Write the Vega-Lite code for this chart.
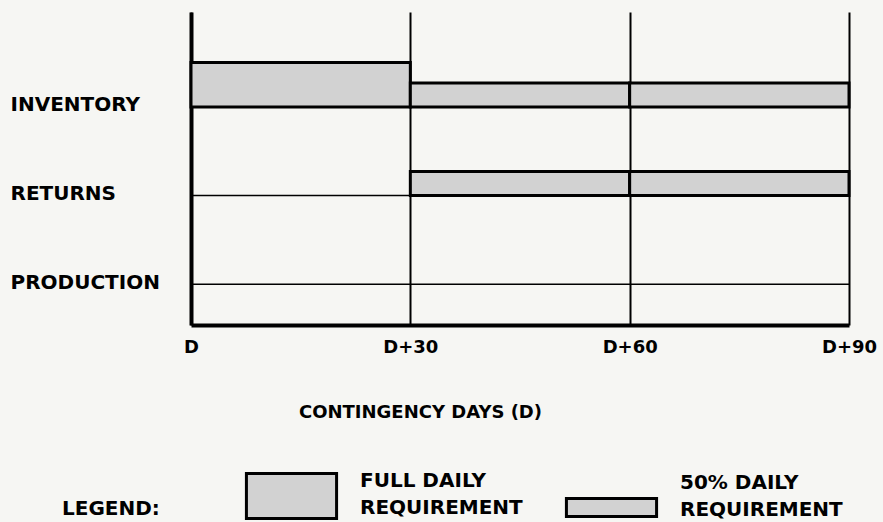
{
  "$schema": "https://vega.github.io/schema/vega-lite/v6.json",
  "width": 658,
  "height": 313,
  "autosize": {"type": "none"},
  "padding": {"left": 191, "top": 12, "right": 34, "bottom": 197},
  "background": "#f6f6f3",
  "config": {"view": {"stroke": null}, "font": "DejaVu Sans"},
  "datasets": {
    "bars": [
      {"source": "INVENTORY", "from": 0, "to": 30, "req": "FULL", "base": 2, "top": 2.5},
      {"source": "INVENTORY", "from": 30, "to": 60, "req": "50%", "base": 2, "top": 2.27},
      {"source": "INVENTORY", "from": 60, "to": 90, "req": "50%", "base": 2, "top": 2.27},
      {"source": "RETURNS", "from": 30, "to": 60, "req": "50%", "base": 1, "top": 1.27},
      {"source": "RETURNS", "from": 60, "to": 90, "req": "50%", "base": 1, "top": 1.27}
    ],
    "rows": [
      {"source": "INVENTORY", "base": 2},
      {"source": "RETURNS", "base": 1},
      {"source": "PRODUCTION", "base": 0}
    ]
  },
  "layer": [
    {
      "data": {"name": "rows"},
      "mark": {"type": "rule", "color": "black", "strokeWidth": 1.5},
      "encoding": {
        "x": {
          "datum": 0, "type": "quantitative",
          "scale": {"domain": [0, 90], "nice": false, "zero": false},
          "axis": {
            "title": "CONTINGENCY DAYS (D)",
            "values": [0, 30, 60, 90],
            "labelExpr": "datum.value == 0 ? 'D' : 'D+' + datum.value",
            "grid": true, "gridColor": "black", "gridWidth": 2, "gridOpacity": 1,
            "domain": true, "domainColor": "black", "domainWidth": 4,
            "ticks": false, "tickSize": 0,
            "labelPadding": 22, "labelBaseline": "middle",
            "labelFont": "DejaVu Sans", "labelFontWeight": "bold", "labelFontSize": 18, "labelColor": "black",
            "labelFlush": false, "labelOverlap": false,
            "titleFont": "DejaVu Sans", "titleFontWeight": "bold", "titleFontSize": 18, "titleColor": "black",
            "titleX": 229, "titleY": 87, "titleBaseline": "middle", "titleAlign": "center"
          }
        },
        "x2": {"datum": 90},
        "y": {
          "field": "base", "type": "quantitative",
          "scale": {"domain": [-0.46, 3.07], "nice": false, "zero": false},
          "axis": {
            "title": null,
            "values": [0, 1, 2],
            "labelExpr": "datum.value == 2 ? 'INVENTORY' : datum.value == 1 ? 'RETURNS' : 'PRODUCTION'",
            "grid": false,
            "domain": true, "domainColor": "black", "domainWidth": 4,
            "ticks": false, "tickSize": 0,
            "labelAlign": "left", "labelPadding": 181, "labelBaseline": "middle", "labelOffset": -2,
            "labelFont": "DejaVu Sans", "labelFontWeight": "bold", "labelFontSize": 20, "labelColor": "black",
            "labelFlush": false, "labelOverlap": false, "labelLimit": 0
          }
        }
      }
    },
    {
      "data": {"name": "bars"},
      "mark": {"type": "rect", "stroke": "black", "strokeWidth": 3},
      "encoding": {
        "x": {"field": "from", "type": "quantitative", "title": "CONTINGENCY DAYS (D)"},
        "x2": {"field": "to"},
        "y": {"field": "base", "type": "quantitative", "title": null},
        "y2": {"field": "top"},
        "fill": {
          "field": "req", "type": "nominal",
          "scale": {"domain": ["FULL", "50%"], "range": ["#d2d2d2", "#d2d2d2"]},
          "legend": {
            "orient": "none", "legendX": -129, "legendY": 436,
            "direction": "horizontal", "columns": 2,
            "title": "LEGEND:", "titleOrient": "left", "titlePadding": 84,
            "titleFont": "DejaVu Sans", "titleFontWeight": "bold", "titleFontSize": 20, "titleColor": "black",
            "titleBaseline": "middle",
            "symbolSize": 8464, "symbolStrokeColor": "black", "symbolStrokeWidth": 3, "symbolFillColor": "#d2d2d2",
            "labelOffset": 21, "labelLimit": 0,
            "labelFont": "DejaVu Sans", "labelFontWeight": "bold", "labelFontSize": 20, "labelColor": "black",
            "labelBaseline": "middle",
            "columnPadding": 37, "padding": 0,
            "labelExpr": "datum.value === 'FULL' ? ['FULL DAILY', 'REQUIREMENT'] : ['50% DAILY', 'REQUIREMENT']",
            "encode": {
              "symbols": {"update": {
                "shape": {"signal": "datum.value === 'FULL' ? 'M-0.98,-0.49H0.98V0.49H-0.98Z' : 'M-0.98,0.01H0.98V0.4H-0.98Z'"},
                "stroke": {"value": "black"}, "strokeWidth": {"value": 3},
                "fill": {"value": "#d2d2d2"}, "opacity": {"value": 1}
              }},
              "labels": {"update": {"lineHeight": {"value": 27}, "dy": {"value": -15}}},
              "title": {"update": {"dy": {"value": 23}}}
            }
          }
        }
      }
    }
  ]
}
